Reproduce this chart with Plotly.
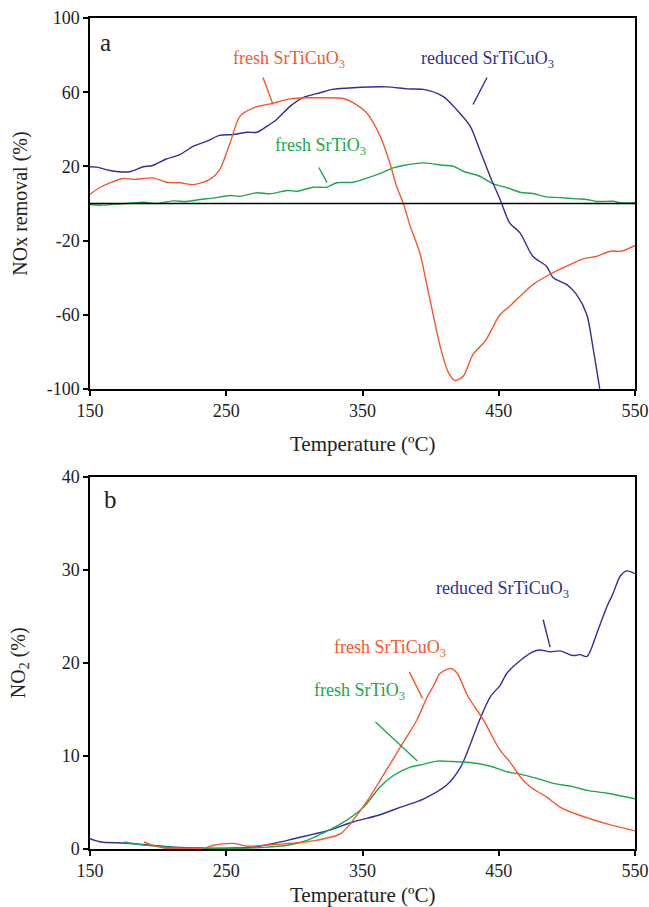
import plotly.graph_objects as go
from plotly.subplots import make_subplots

# ---------- Panel a : NOx removal (%) ----------
a_cu_T = [150, 157, 174, 182, 196, 206, 216, 226, 238, 245, 253, 260, 270, 284, 297, 311, 319, 336, 343, 353,
          363, 370, 375, 380, 385, 392, 399.5, 407, 413, 418, 424, 431, 440, 451, 458, 465.6, 475, 485, 497,
          512, 522, 532, 540, 550]
a_cu_v = [4.9, 8.5, 13.5, 13, 13.8, 11.5, 11.2, 10.2, 13, 18, 33, 47, 51.6, 54, 56.4, 57, 57, 56.6, 54.4, 48.9,
          36.3, 22, 9.3, 0, -12.2, -26.5, -51.8, -76.9, -91, -95.4, -93, -81.4, -74.2, -59.8, -55.4, -50, -43.7,
          -39.2, -34.7, -29.8, -28.4, -25.7, -25.7, -22.6]

a_red_T = [150, 155, 164.7, 179, 189, 196, 206, 216, 226, 236, 245, 255, 265, 272.6, 280, 287, 297, 306, 319,
           328, 343, 368, 382.6, 394.6, 409, 419, 429, 436, 443.6, 451, 458, 465.6, 475, 485, 490, 500, 507,
           514.6, 519, 524, 526]
a_red_v = [19.8, 19.6, 17.8, 17.1, 19.8, 20.5, 24, 26.4, 30.9, 33.6, 36.7, 37.2, 38.4, 38.4, 41.7, 45.3, 52.5,
           57, 59.7, 61.5, 62.4, 62.9, 61.8, 61.5, 57.8, 50.7, 41.7, 29, 14.7, 2.2, -10.4, -15.8, -28.4, -33.8,
           -40, -43.7, -49, -59.8, -76.9, -99.4, -110]

a_ti_T = [150, 157, 177, 189, 199, 211, 221, 231, 240, 253, 260, 272.6, 282, 294.6, 302, 313.7, 324, 331, 343,
          360.6, 372.5, 380, 394.6, 409, 416.6, 424, 436, 446, 456, 465.6, 475, 485, 495, 507, 514.6, 522, 534,
          539, 550]
a_ti_v = [-0.5, -0.9, 0, 0.7, 0, 1.4, 1.1, 2.2, 2.9, 4.3, 3.9, 5.8, 5.2, 7, 6.6, 8.8, 8.8, 11.2, 11.5, 15.6,
          19.2, 20.5, 21.9, 20.6, 20.1, 17.4, 14.7, 10.6, 8.5, 6.1, 5.4, 3.6, 3.2, 2.5, 2.2, 1.1, 1.2, 0.4, 0.4]

# ---------- Panel b : NO2 (%) ----------
b_red_T = [150, 158, 175, 194.7, 211.5, 231, 255.5, 270, 285, 299.6, 314, 325, 343, 361, 378, 395, 412, 422,
           429, 436, 444, 451, 456, 466, 475, 480, 487.7, 495, 504.6, 509.7, 514.8, 522, 529.5, 534, 539, 544, 550]
b_red_v = [1.1, 0.75, 0.65, 0.4, 0.2, 0.1, 0.1, 0.2, 0.6, 1.1, 1.6, 2.0, 2.9, 3.6, 4.5, 5.4, 6.9, 8.8, 11.2,
           13.9, 16.4, 17.6, 18.9, 20.3, 21.2, 21.4, 21.2, 21.3, 20.8, 20.9, 20.7, 23.2, 26.1, 27.5, 29.3, 29.9, 29.6]

b_cu_T = [189.6, 194.7, 207, 221.8, 233.5, 241, 255.5, 265.6, 277.6, 287.6, 304.6, 317, 334, 343, 353.6, 363,
          378, 390, 397.6, 402, 407, 414.5, 419.5, 427, 438.6, 451, 458, 465.6, 473, 485, 495, 509.7, 529.5, 550]
b_cu_v = [0.75, 0.47, 0.05, 0.05, 0.1, 0.4, 0.6, 0.3, 0.4, 0.5, 0.7, 0.95, 1.65, 3.1, 5.2, 7.4, 11, 13.9, 16.4,
          17.5, 18.9, 19.4, 18.9, 16.5, 13.9, 10.6, 9.4, 7.8, 6.7, 5.6, 4.5, 3.6, 2.7, 1.95]

b_ti_T = [175, 187, 207, 231, 255.5, 280, 295, 309.7, 322, 334, 350.7, 363, 372.7, 385, 394.6, 404.6, 416.6,
          429, 444, 456, 465.6, 478, 490, 504.6, 514.8, 529.5, 550]
b_ti_v = [0.75, 0.47, 0.2, 0.05, 0.05, 0.2, 0.4, 0.95, 1.8, 2.7, 4.5, 6.7, 7.9, 8.8, 9.1, 9.45, 9.4, 9.3, 8.9,
          8.3, 8.05, 7.6, 7.05, 6.7, 6.3, 6.0, 5.4]

x_ticks = [150, 250, 350, 450, 550]
a_y_ticks = [-100, -60, -20, 20, 60, 100]
a_y_ticktext = ["-100", "-60", "-20", "20", "60", "100"]
b_y_ticks = [0, 10, 20, 30, 40]

ORANGE = "#F4582C"
NAVY = "#2E3192"
GREEN = "#1BA84C"
FONT = "Liberation Serif"
TXT = "#222"

fig = make_subplots(rows=2, cols=1, vertical_spacing=0.106)

def add(T, v, color, row):
    fig.add_trace(go.Scatter(x=T, y=v, mode="lines",
                             line=dict(color=color, width=1.4, shape="spline", smoothing=0.8),
                             showlegend=False, hoverinfo="skip"), row=row, col=1)

add(a_ti_T, a_ti_v, GREEN, 1)
add(a_red_T, a_red_v, NAVY, 1)
add(a_cu_T, a_cu_v, ORANGE, 1)
add(b_red_T, b_red_v, NAVY, 2)
add(b_ti_T, b_ti_v, GREEN, 2)
add(b_cu_T, b_cu_v, ORANGE, 2)

axis_common = dict(showline=True, linecolor="black", linewidth=1.5, mirror=True, ticks="outside",
                   ticklen=5, tickwidth=1.5, tickcolor="black", showgrid=False, zeroline=False,
                   automargin=False, tickfont=dict(family=FONT, size=18, color=TXT))

fig.update_xaxes(range=[150, 550], tickvals=x_ticks, ticktext=[str(t) for t in x_ticks], **axis_common)
fig.update_yaxes(range=[-100, 100], tickvals=a_y_ticks, ticktext=a_y_ticktext, row=1, col=1, **axis_common)
fig.update_yaxes(range=[0, 40], tickvals=b_y_ticks, ticktext=[str(t) for t in b_y_ticks], row=2, col=1, **axis_common)

# zero line in panel a
fig.add_shape(type="line", xref="x domain", yref="y", x0=0, x1=1, y0=0, y1=0,
              line=dict(color="black", width=1.5))

def label(text, x, y, color, xref, yref, size=18, angle=0):
    fig.add_annotation(text=text, x=x, y=y, xref=xref, yref=yref, showarrow=False, textangle=angle,
                       xanchor="center", yanchor="middle",
                       font=dict(family=FONT, size=size, color=color))

def leader(x0, y0, x1, y1, color, xref, yref):
    fig.add_shape(type="line", xref=xref, yref=yref, x0=x0, y0=y0, x1=x1, y1=y1,
                  line=dict(color=color, width=1.4))

# axis titles (positioned in axis-domain coordinates)
label("Temperature (ºC)", 0.5, -0.148, TXT, "x domain", "y domain", size=21)
label("Temperature (ºC)", 0.5, -0.123, TXT, "x2 domain", "y2 domain", size=21)
label("NOx removal (%)", -0.128, 0.5, TXT, "x domain", "y domain", size=20, angle=-90)
label("NO<sub>2</sub> (%)", -0.128, 0.5, TXT, "x2 domain", "y2 domain", size=20, angle=-90)

# panel a labels
label("a", 161.7, 86.8, TXT, "x", "y", size=25)
label("fresh SrTiCuO<sub>3</sub>", 296, 77.6, ORANGE, "x", "y")
leader(277, 67.9, 284.3, 53.4, ORANGE, "x", "y")
label("reduced SrTiCuO<sub>3</sub>", 441.4, 77.6, NAVY, "x", "y")
leader(441.4, 67.9, 431.1, 53.4, NAVY, "x", "y")
label("fresh SrTiO<sub>3</sub>", 319.5, 30.7, GREEN, "x", "y")
leader(318, 19.4, 324, 11.3, GREEN, "x", "y")

# panel b labels
label("b", 165.4, 37.6, TXT, "x2", "y2", size=25)
label("reduced SrTiCuO<sub>3</sub>", 452.6, 27.9, NAVY, "x2", "y2")
leader(482.6, 24.65, 487.7, 21.7, NAVY, "x2", "y2")
label("fresh SrTiCuO<sub>3</sub>", 370.5, 21.6, ORANGE, "x2", "y2")
leader(384.4, 19.04, 394, 16.2, ORANGE, "x2", "y2")
label("fresh SrTiO<sub>3</sub>", 347.8, 16.9, GREEN, "x2", "y2")
leader(359.5, 13.65, 390.3, 9.45, GREEN, "x2", "y2")

fig.update_layout(width=649, height=907, margin=dict(l=90, r=14, t=18, b=58),
                  paper_bgcolor="white", plot_bgcolor="white",
                  font=dict(family=FONT, color=TXT))
fig.update_yaxes(domain=[0.5535, 1.0], row=1, col=1)
fig.update_yaxes(domain=[0.0, 0.4477], row=2, col=1)

fig.write_html("out.html", config={"displayModeBar": False},
               post_script="document.body.style.margin='0';")
